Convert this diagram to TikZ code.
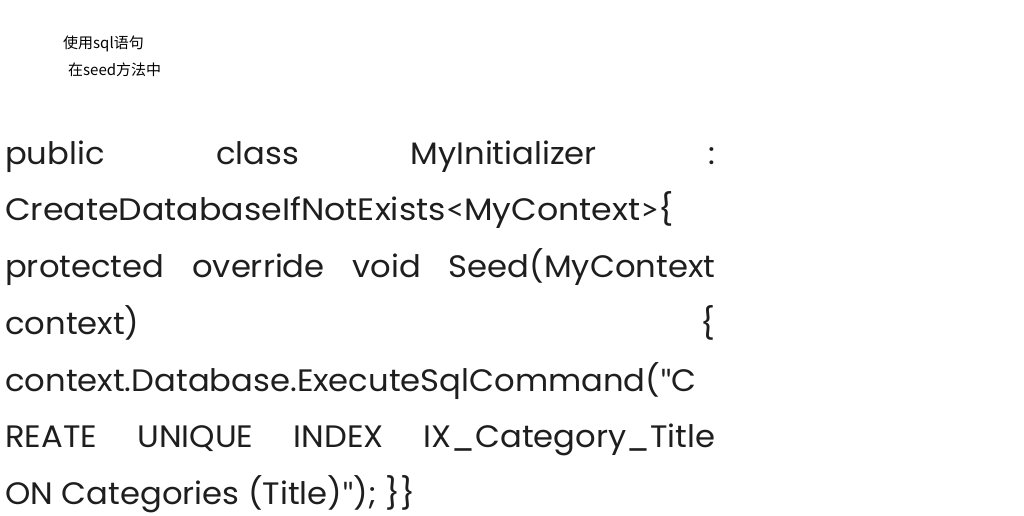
\documentclass[tikz,border=0pt]{standalone}
\usepackage{fontspec}
\setmainfont{Poppins}[FakeStretch=1.04]
\newfontfamily\cjk{Noto Sans CJK SC}
\newfontfamily\symf{Lato}
\definecolor{ink}{HTML}{1E1E1E}
\newcommand{\dq}{{\symf\symbol{34}}}
\newcommand{\lt}{{\symf<}}
\newcommand{\gt}{{\symf>}}
\begin{document}
\begin{tikzpicture}[x=1pt,y=-1pt]
\useasboundingbox[fill=white] (0,0) rectangle (1024,515);
\tikzset{
  code/.style={anchor=base west, inner sep=0pt, text=ink, font=\fontsize{31}{31}\selectfont},
  note/.style={anchor=west, inner sep=0pt, text=black, font=\cjk\fontsize{15}{15}\selectfont}
}
\node[note] (n1) at (63,44) {使用sql语句};
\node[note] (n2) at (68,70) {在seed方法中};
\node[code] (l1) at (5,164) {\makebox[710pt][s]{public class MyInitializer :}};
\node[code] (l2) at (5,220) {\scalebox{1.03}[1]{CreateDatabaseIfNotExists\lt MyContext\gt\{}};
\node[code] (l3) at (5,277) {\makebox[710pt][s]{protected override void Seed(MyContext}};
\node[code] (l4) at (5,334) {\makebox[710pt][s]{context)\hfill\{}};
\node[code] (l5) at (5,391) {context.Database.ExecuteSqlCommand(\dq C};
\node[code] (l6) at (5,447) {\makebox[710pt][s]{REATE UNIQUE INDEX IX\_Category\_Title}};
\node[code] (l7) at (5,504) {ON Categories (Title)\dq); \}\}};
\end{tikzpicture}
\end{document}
